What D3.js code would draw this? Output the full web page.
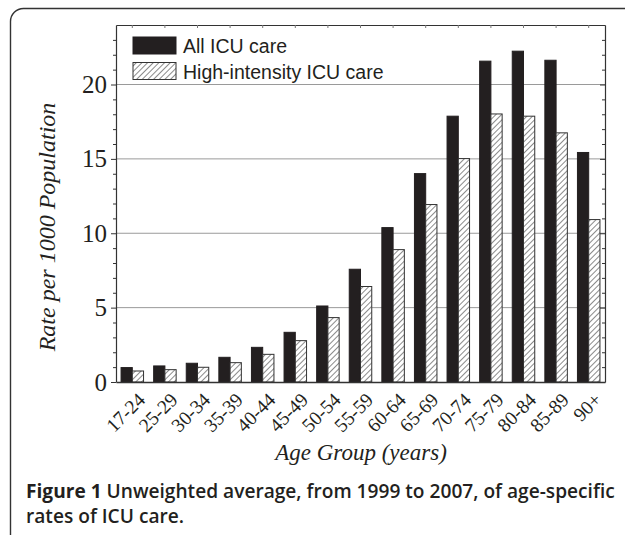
<!DOCTYPE html>
<html>
<head>
<meta charset="utf-8">
<script src="https://cdn.jsdelivr.net/npm/d3@7"></script>
<style>
  body { margin: 0; background: #fff; }
</style>
</head>
<body>
<svg id="chart"></svg>
<script>
const ages = ["17-24", "25-29", "30-34", "35-39", "40-44", "45-49", "50-54", "55-59",
              "60-64", "65-69", "70-74", "75-79", "80-84", "85-89", "90+"];
const allIcu = [0.97, 1.08, 1.26, 1.66, 2.33, 3.34, 5.11, 7.58, 10.38, 14.01, 17.87, 21.57, 22.24, 21.63, 15.43];
const highIcu = [0.74, 0.83, 0.99, 1.30, 1.86, 2.78, 4.33, 6.42, 8.90, 11.93, 15.02, 18.02, 17.87, 16.75, 10.92];
const seriesNames = ["All ICU care", "High-intensity ICU care"];
const yMajor = [0, 5, 10, 15, 20];
const captionBold = "Figure 1";
const captionLines = ["Unweighted average, from 1999 to 2007, of age-specific", "rates of ICU care."];

const W = 625, H = 535;
const plot = {left: 116, right: 605, top: 25, bottom: 382};
const ink = "#231f20";
const serif = "'Liberation Serif', 'Times New Roman', serif";
const sans = "'Liberation Sans', Arial, sans-serif";

const svg = d3.select("#chart").attr("width", W).attr("height", H);

// hatch pattern for the high-intensity bars
svg.append("defs").append("pattern")
    .attr("id", "hatch")
    .attr("patternUnits", "userSpaceOnUse")
    .attr("width", 4).attr("height", 4)
    .attr("patternTransform", "rotate(45)")
  .call(p => {
    p.append("rect").attr("width", 4).attr("height", 4).attr("fill", "#fff");
    p.append("line").attr("x1", 0).attr("y1", 0).attr("x2", 0).attr("y2", 4)
      .attr("stroke", "#2a2a2a").attr("stroke-width", 1.1);
  });

// outer rounded frame (runs off the right/bottom edge)
svg.append("rect")
    .attr("x", 10.5).attr("y", 8.5)
    .attr("width", 640).attr("height", 560)
    .attr("rx", 13)
    .attr("fill", "none").attr("stroke", "#333").attr("stroke-width", 1.4);

const x = d3.scaleBand(ages, [plot.left, plot.right]).paddingInner(0.31).paddingOuter(0.155);
const xs = d3.scaleBand([0, 1], [0, x.bandwidth()]);
const y = d3.scaleLinear([0, 24], [plot.bottom, plot.top]);

// grid lines
svg.append("g")
  .selectAll("line")
  .data(yMajor.filter(d => d > 0))
  .join("line")
    .attr("x1", plot.left).attr("x2", plot.right)
    .attr("y1", d => y(d)).attr("y2", d => y(d))
    .attr("stroke", "#9a9a9a").attr("stroke-width", 1);

// bars
const rows = ages.map((a, i) => ({age: a, vals: [allIcu[i], highIcu[i]]}));
svg.append("g")
  .selectAll("g")
  .data(rows)
  .join("g")
    .attr("transform", d => `translate(${x(d.age)},0)`)
  .selectAll("rect")
  .data(d => d.vals.map((v, k) => ({k, v})))
  .join("rect")
    .attr("x", d => xs(d.k))
    .attr("y", d => y(d.v))
    .attr("width", xs.bandwidth())
    .attr("height", d => y(0) - y(d.v))
    .attr("fill", d => d.k === 0 ? ink : "url(#hatch)")
    .attr("stroke", d => d.k === 0 ? ink : "#333")
    .attr("stroke-width", 1);

// left axis: ticks every unit, labels on the majors
const axLeft = svg.append("g")
    .attr("transform", `translate(${plot.left},0)`)
    .call(d3.axisLeft(y).tickValues(d3.range(0, 24)).tickSizeOuter(0)
      .tickFormat(d => yMajor.includes(d) ? d : ""));
axLeft.select(".domain").attr("stroke", "#333").attr("stroke-width", 1.2);
axLeft.selectAll(".tick line")
    .attr("x2", d => yMajor.includes(d) ? -5 : -3)
    .attr("stroke", "#333");
axLeft.selectAll(".tick text")
    .attr("x", -9)
    .attr("font-family", serif).attr("font-size", 25).attr("fill", ink);

// right axis: inward ticks
const axRight = svg.append("g")
    .attr("transform", `translate(${plot.right},0)`)
    .call(d3.axisRight(y).tickValues(d3.range(1, 24)).tickSizeOuter(0).tickFormat(""));
axRight.select(".domain").attr("stroke", "#333").attr("stroke-width", 1.2);
axRight.selectAll(".tick line")
    .attr("x2", d => yMajor.includes(d) ? -5 : -3)
    .attr("stroke", "#333");

// top axis: inward ticks at the category centres
const axTop = svg.append("g")
    .attr("transform", `translate(0,${plot.top})`)
    .call(d3.axisTop(x).tickSizeOuter(0).tickFormat(""));
axTop.select(".domain").attr("stroke", "#333").attr("stroke-width", 1.2);
axTop.selectAll(".tick line").attr("y2", 3).attr("stroke", "#777");

// bottom axis with rotated age labels
const axBottom = svg.append("g")
    .attr("transform", `translate(0,${plot.bottom})`)
    .call(d3.axisBottom(x).tickSize(0).tickSizeOuter(0));
axBottom.select(".domain").attr("stroke", "#333").attr("stroke-width", 1.4);
axBottom.selectAll(".tick text")
    .attr("font-family", serif).attr("font-size", 19.5).attr("fill", ink)
    .attr("text-anchor", "end")
    .attr("y", 0).attr("dy", 0)
    .attr("transform", "translate(14,19) rotate(-45)");

// axis titles
svg.append("text")
    .attr("transform", "translate(55,227) rotate(-90)")
    .attr("text-anchor", "middle")
    .attr("font-family", serif).attr("font-style", "italic")
    .attr("font-size", 24).attr("fill", ink)
    .text("Rate per 1000 Population");

svg.append("text")
    .attr("x", 361).attr("y", 460)
    .attr("text-anchor", "middle")
    .attr("font-family", serif).attr("font-style", "italic")
    .attr("font-size", 23).attr("fill", ink)
    .text("Age Group (years)");

// legend
const legend = svg.append("g").attr("transform", "translate(133,37)");
seriesNames.forEach((name, k) => {
  legend.append("rect")
      .attr("x", 0).attr("y", k * 25.5)
      .attr("width", 43).attr("height", 17)
      .attr("fill", k === 0 ? ink : "url(#hatch)")
      .attr("stroke", k === 0 ? ink : "#333").attr("stroke-width", 1);
  legend.append("text")
      .attr("x", 50).attr("y", k * 25.5 + 16)
      .attr("font-family", sans).attr("font-size", 19.5).attr("fill", ink)
      .text(name);
});

// caption
const cap = svg.append("g")
    .attr("font-family", "'Open Sans', 'Noto Sans', sans-serif")
    .attr("fill", ink);
const line1 = cap.append("text").attr("x", 26).attr("y", 498).attr("font-size", 17);
line1.append("tspan").attr("font-weight", 700).text(captionBold + " ");
line1.append("tspan").attr("font-weight", 600).text(captionLines[0]);
const line2 = cap.append("text").attr("x", 26).attr("y", 523).attr("font-size", 17)
    .attr("font-weight", 600).text(captionLines[1]);
// fit the first line to the reference width
const len = line1.node().getComputedTextLength();
const fs = 17 * 589 / len;
line1.attr("font-size", fs);
line2.attr("font-size", fs);
</script>
</body>
</html>
